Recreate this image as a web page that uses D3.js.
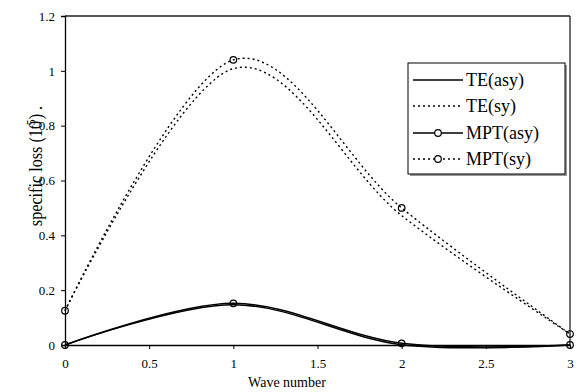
<!DOCTYPE html>
<html><head><meta charset="utf-8">
<script src="https://cdn.jsdelivr.net/npm/d3@7"></script>
<style>body{margin:0;background:#fff}svg{display:block}</style>
</head><body>
<script>
const waveNumbers = [0, 1, 2, 3];
const teAsy  = [0, 0.147, 0.001, 0];
const teSy   = [0.125, 1.008, 0.472, 0.04];
const mptAsy = [0, 0.152, 0.006, 0];
const mptSy  = [0.125, 1.04, 0.50, 0.04];
const xTicks = [0, 0.5, 1, 1.5, 2, 2.5, 3];
const yTicks = [0, 0.2, 0.4, 0.6, 0.8, 1, 1.2];
const legendNames = ["TE(asy)", "TE(sy)", "MPT(asy)", "MPT(sy)"];

const FONT = '"Liberation Serif","Times New Roman",serif';
const W = 582, H = 392;
const svg = d3.select("body").append("svg").attr("width", W).attr("height", H)
  .style("font-family", FONT);
const x = d3.scaleLinear().domain([0, 3]).range([65, 570]);
const y = d3.scaleLinear().domain([0, 1.2]).range([345, 16]);

const series = [
  {name: legendNames[0], vals: teAsy, dash: null, marker: false},
  {name: legendNames[1], vals: teSy, dash: "2,3", marker: false},
  {name: legendNames[2], vals: mptAsy, dash: null, marker: true},
  {name: legendNames[3], vals: mptSy, dash: "2,3", marker: true}
];

// frame (top and right)
svg.append("line").attr("x1", x(0)).attr("x2", x(3)).attr("y1", y(1.2)).attr("y2", y(1.2)).attr("stroke", "#222").attr("stroke-width", 1.3);
svg.append("line").attr("x1", x(3)).attr("x2", x(3)).attr("y1", y(1.2)).attr("y2", y(0)).attr("stroke", "#222").attr("stroke-width", 1.3);

// axes
const fmt = d => d3.format("")(d);
const xAxis = svg.append("g").attr("transform", `translate(0,${y(0)})`)
  .call(d3.axisBottom(x).tickValues(xTicks).tickFormat(fmt).tickSizeOuter(0).tickSize(4).tickPadding(10));
const yAxis = svg.append("g").attr("transform", `translate(${x(0)},0)`)
  .call(d3.axisLeft(y).tickValues(yTicks).tickFormat(fmt).tickSizeOuter(0).tickSize(4).tickPadding(6));
[xAxis, yAxis].forEach(g => {
  g.attr("font-family", null).attr("font-size", null);
  g.select(".domain").attr("stroke", "#000").attr("stroke-width", 1.3);
  g.selectAll(".tick line").attr("stroke", "#000").attr("stroke-width", 1);
  g.selectAll("text").style("font-size", "13px").style("font-family", FONT).attr("fill", "#000");
});

// lines
const line = d3.line().x((d, i) => x(waveNumbers[i])).y(d => y(d)).curve(d3.curveCardinal.tension(0));
series.forEach(s => {
  svg.append("path").datum(s.vals).attr("d", line).attr("fill", "none")
    .attr("stroke", "#000").attr("stroke-width", s.dash ? 1.4 : 1.5)
    .attr("stroke-dasharray", s.dash);
  if (s.marker) {
    svg.selectAll(null).data(s.vals).enter().append("circle")
      .attr("cx", (d, i) => x(waveNumbers[i])).attr("cy", d => y(d)).attr("r", 3.3)
      .attr("fill", "none").attr("stroke", "#000").attr("stroke-width", 1.2);
  }
});

// axis titles
svg.append("text").attr("x", 287).attr("y", 387).attr("text-anchor", "middle")
  .style("font-size", "14px").text("Wave number");
const yl = svg.append("text").attr("transform", "translate(42,166) rotate(-90) scale(0.9,1)")
  .attr("text-anchor", "middle").style("font-size", "18px");
yl.append("tspan").text("specific loss (10");
yl.append("tspan").attr("dy", -7).attr("dx", -9).style("font-size", "13px").text("-5");
yl.append("tspan").attr("dy", 7).text(")  .");

// legend
const lg = svg.append("g");
lg.append("rect").attr("x", 410).attr("y", 65).attr("width", 157).attr("height", 111).attr("fill", "#999");
lg.append("rect").attr("x", 408).attr("y", 63).attr("width", 157).attr("height", 111).attr("fill", "#fff").attr("stroke", "#000").attr("stroke-width", 1);
const rowY = [80, 106, 133, 159];
series.forEach((s, i) => {
  const yy = rowY[i];
  lg.append("line").attr("x1", 413).attr("x2", 463).attr("y1", yy).attr("y2", yy)
    .attr("stroke", "#000").attr("stroke-width", s.dash ? 1.4 : 1.5).attr("stroke-dasharray", s.dash);
  if (s.marker) lg.append("circle").attr("cx", 438).attr("cy", yy).attr("r", 3.3).attr("fill", "#fff").attr("stroke", "#000").attr("stroke-width", 1.2);
  lg.append("text").attr("x", 466).attr("y", yy + 6).style("font-size", "18px").text(s.name);
});
</script>
</body></html>
